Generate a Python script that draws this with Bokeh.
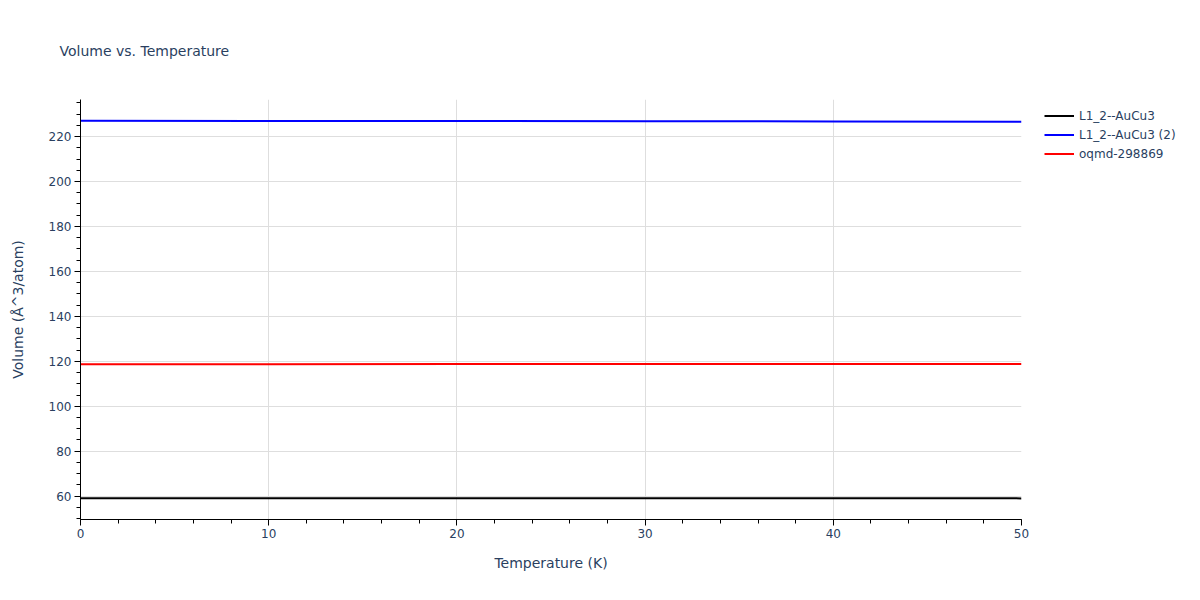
from bokeh.plotting import figure
from bokeh.models import Legend, LegendItem, Range1d
from bokeh.embed import file_html
from bokeh.resources import INLINE

temperature = [0, 10, 20, 30, 40, 50]
black_series = [59.1, 59.1, 59.1, 59.1, 59.05, 59.0]
blue_series = [227.0, 226.95, 226.9, 226.85, 226.75, 226.6]
red_series = [118.7, 118.7, 118.75, 118.75, 118.8, 118.8]
series_names = ["L1_2--AuCu3", "L1_2--AuCu3 (2)", "oqmd-298869"]
series_colors = ["#000000", "#0000ff", "#ff0000"]

FONT = "DejaVu Sans"
TXT = "#2a3f5f"

p = figure(frame_width=941, frame_height=420, output_backend="svg", toolbar_location=None,
           x_range=Range1d(0, 50), y_range=Range1d(49.6, 236.5),
           min_border_left=80, min_border_right=10, min_border_top=99, min_border_bottom=72)

p.title.text = "Volume vs. Temperature"
p.title.text_font = FONT
p.title.text_font_size = "14px"
p.title.text_font_style = "normal"
p.title.text_color = TXT
p.title.offset = -21
p.title.standoff = 81

p.outline_line_color = None
for ax in (p.xaxis[0], p.yaxis[0]):
    ax.axis_line_color = "#000000"
    ax.major_tick_line_color = "#000000"
    ax.minor_tick_line_color = "#000000"
    ax.major_tick_out = 6
    ax.major_tick_in = 0
    ax.minor_tick_out = 4
    ax.minor_tick_in = 0
    ax.major_label_text_font = FONT
    ax.major_label_text_font_size = "12px"
    ax.major_label_text_color = TXT
    ax.axis_label_text_font = FONT
    ax.axis_label_text_font_size = "14px"
    ax.axis_label_text_font_style = "normal"
    ax.axis_label_text_color = TXT
    ax.major_label_standoff = 3

p.xaxis.axis_label = "Temperature (K)"
p.yaxis.axis_label = "Volume (Å^3/atom)"
p.xaxis.ticker.desired_num_ticks = 6
p.xaxis.ticker.num_minor_ticks = 5
p.yaxis.ticker.desired_num_ticks = 9
p.yaxis.ticker.num_minor_ticks = 4
p.xaxis.axis_label_standoff = 14
p.yaxis.axis_label_standoff = 20

p.xgrid.grid_line_color = "#dedede"
p.ygrid.grid_line_color = "#dedede"

renderers = []
for ys, c in zip([black_series, blue_series, red_series], series_colors):
    r = p.line(temperature, ys, line_color=c, line_width=2)
    renderers.append(r)

legend = Legend(items=[LegendItem(label=n, renderers=[r]) for n, r in zip(series_names, renderers)],
                location=(23, 356), margin=0, padding=5, spacing=0,
                glyph_width=30, glyph_height=19, label_height=19, label_standoff=5,
                label_text_font=FONT, label_text_font_size="12px", label_text_color=TXT,
                border_line_color=None, background_fill_alpha=0)
p.add_layout(legend, "right")

open("out.html", "w").write(file_html(p, INLINE))
